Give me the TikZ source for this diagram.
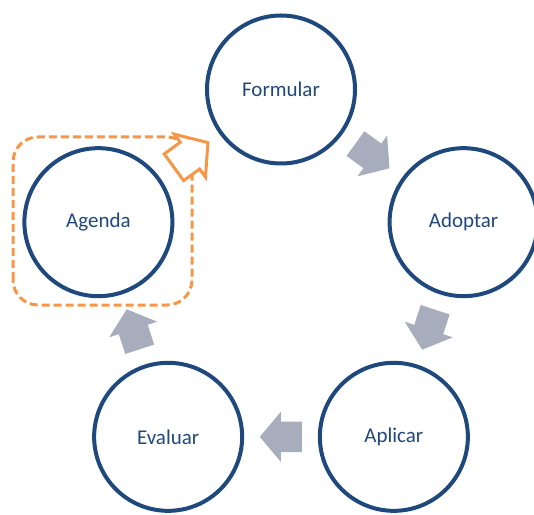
\documentclass[tikz,border=0pt]{standalone}
\usepackage{fontspec}
\setmainfont{Carlito}
\usepackage{tikz}
\usetikzlibrary{shapes.arrows,calc}
\definecolor{ringblue}{RGB}{31,73,125}
\definecolor{arrowgray}{RGB}{167,173,188}
\definecolor{agendaorange}{RGB}{247,150,70}

\begin{document}
\begin{tikzpicture}[x=1pt,y=1pt,
    stage/.style={circle,draw=ringblue,line width=4pt,fill=white,minimum size=148pt,
      text=ringblue,font=\fontsize{21}{25}\selectfont},
    cyclearrow/.style={single arrow,anchor=tail,fill=arrowgray,minimum height=42pt,minimum width=50pt,
      single arrow head extend=10pt,single arrow tip angle=100,inner xsep=0pt,inner ysep=15pt}]
  \useasboundingbox (0,0) rectangle (534,514);
  % the five stages on a pentagon
  \begin{scope}[shift={(281,232.5)}]
    \node[stage] (form) at (90:192) {Formular};
    \node[stage] (adop) at (18:192) {Adoptar};
    \node[stage] (apli) at (-54:192) {Aplicar};
    \node[stage] (eval) at (-126:192) {Evaluar};
    \node[stage] (agen) at (162:192) {Agenda};
  \end{scope}
  % arrows between the stages, centred half way
  \node[cyclearrow,rotate=-36] (fa) at ($(form)!0.5!(adop)!21pt!(form)$) {};
  \node[cyclearrow,rotate=-108] (aa) at ($(adop)!0.5!(apli)!21pt!(adop)$) {};
  \node[cyclearrow,rotate=180] (ae) at ($(apli)!0.5!(eval)!21pt!(apli)$) {};
  \node[cyclearrow,rotate=108] (ea) at ($(eval)!0.5!(agen)!21pt!(eval)$) {};
  % highlighted step
  \draw[agendaorange,line width=3pt,dash pattern=on 8pt off 4pt,rounded corners=25pt]
    (13,209) rectangle (192,377);
  \node[cyclearrow,fill=white,draw=agendaorange,line width=3pt,rotate=36] (af)
    at ($(agen)!0.5!(form)!21pt!(agen)$) {};
\end{tikzpicture}
\end{document}
